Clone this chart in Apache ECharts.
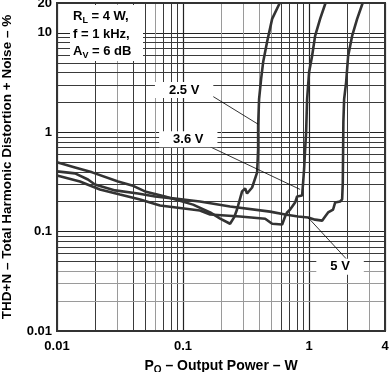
<!DOCTYPE html>
<html><head><meta charset="utf-8">
<script src="https://cdn.jsdelivr.net/npm/echarts@6/dist/echarts.min.js"></script>
<style>html,body{margin:0;padding:0;background:#fff}#c{width:391px;height:372px}</style>
</head><body><div id="c"></div>
<script>
// ---- data ----
const xMin = 0.01, xMax = 4;
const yMin = 0.01, yMax = 20;
const xMinorGrid = [0.02,0.03,0.04,0.05,0.06,0.07,0.08,0.09,0.2,0.3,0.4,0.5,0.6,0.7,0.8,0.9,2,3];
const yMinorGrid = [0.02,0.03,0.04,0.05,0.06,0.07,0.08,0.09,0.2,0.3,0.4,0.5,0.6,0.7,0.8,0.9,2,3,4,5,6,7,8,9];
const xLightGrid = [0.03,0.06,0.2,0.3,0.4,0.5,3];
const yLightGrid = [0.02,0.03,0.04];

const power25 = [0.0100,0.0139,0.0190,0.0305,0.0394,0.0499,0.0720,0.120,0.164,0.197,0.236,0.254,0.268,0.294,0.311,0.322,0.353,0.387,0.394,0.394,0.401,0.416,0.432,0.464,0.509,0.585];
const thd25   = [0.498,0.443,0.395,0.320,0.292,0.254,0.226,0.187,0.156,0.135,0.120,0.139,0.167,0.254,0.272,0.242,0.278,0.395,0.673,1.15,2.15,3.43,5.09,8.11,13.85,20];

const power36 = [0.0100,0.0152,0.0219,0.0316,0.0456,0.0657,0.136,0.164,0.283,0.448,0.509,0.611,0.622,0.645,0.669,0.707,0.774,0.803,0.880,0.896,0.913,0.930,0.947,0.964,1.000,1.056,1.116,1.223,1.35];
const thd36   = [0.368,0.320,0.266,0.236,0.211,0.183,0.163,0.149,0.142,0.135,0.120,0.118,0.118,0.142,0.156,0.167,0.196,0.226,0.231,0.31,0.43,0.673,1.0,2.15,4.04,5.86,9.33,13.85,20];

const power5 = [0.0100,0.0139,0.0176,0.0200,0.0289,0.0439,0.0600,0.0864,0.136,0.236,0.490,0.645,0.818,0.982,1.116,1.268,1.340,1.415,1.550,1.608,1.762,1.828,1.850,1.860,1.870,1.896,1.967,2.040,2.194,2.405,2.66];
const thd5   = [0.404,0.386,0.335,0.298,0.260,0.242,0.226,0.215,0.201,0.179,0.159,0.149,0.142,0.139,0.132,0.129,0.142,0.156,0.167,0.196,0.201,0.211,0.31,0.6,1.26,2.154,3.2,5.86,9.33,13.85,20];

const curveNames = ['2.5 V','3.6 V','5 V'];
// label anchor [P, THD] and leader line [from, to]
const labelPos = [[0.102,2.66],[0.110,0.85],[1.76,0.0443]];
const leaderFrom = [[0.152,2.535],[0.161,0.722],[1.967,0.0534]];
const leaderTo = [[0.394,1.205],[0.848,0.266],[0.982,0.1385]];

// ---- chart ----
const FONT = '"Liberation Sans", Arial, sans-serif';
const zip = (a,b) => a.map((v,i)=>[v,b[i]]);
const fmt = v => String(Number(Number(v).toPrecision(4)));

const gridLines = xMinorGrid.map(v=>({xAxis:v, lineStyle:{color: xLightGrid.includes(v)?'#9a9a9a':'#3a3a3a', width:1, type:'solid'}}))
  .concat(yMinorGrid.map(v=>({yAxis:v, lineStyle:{color: yLightGrid.includes(v)?'#9a9a9a':'#3a3a3a', width:1, type:'solid'}})));

const curveStyle = {color:'#333', width:2.6};
const chart = echarts.init(document.getElementById('c'), null, {renderer:'canvas'});
chart.setOption({
  animation:false,
  backgroundColor:'#fff',
  textStyle:{fontFamily:FONT},
  grid:{left:57, right:6, top:3, bottom:41, containLabel:false, outerBoundsMode:'none',
    show:true, borderColor:'#333', borderWidth:2, backgroundColor:'transparent', z:10},
  xAxis:{type:'log', logBase:10, min:xMin, max:xMax,
    axisLine:{show:false}, axisTick:{show:false},
    splitLine:{show:true, lineStyle:{color:'#222', width:1.2}},
    axisLabel:{formatter:fmt, color:'#000', fontWeight:'bold', fontSize:13, fontFamily:FONT, margin:9},
    name:'{n|P}{s|O}{n| – Output Power – W}', nameLocation:'middle', nameGap:26,
    nameTextStyle:{rich:{n:{fontSize:14,fontWeight:'bold',color:'#000',fontFamily:FONT}, s:{fontSize:10,fontWeight:'bold',color:'#000',fontFamily:FONT,verticalAlign:'bottom',padding:[8,0,0,0]}}}
  },
  yAxis:{type:'log', logBase:10, min:yMin, max:yMax,
    axisLine:{show:false}, axisTick:{show:false},
    splitLine:{show:true, lineStyle:{color:'#222', width:1.2}},
    axisLabel:{formatter:fmt, color:'#000', fontWeight:'bold', fontSize:13, fontFamily:FONT, margin:5},
    name:'THD+N – Total Harmonic Distortion + Noise – %', nameLocation:'middle', nameGap:43,
    nameTextStyle:{fontSize:13.5, fontWeight:'bold', color:'#000', fontFamily:FONT}
  },
  series:[
    {type:'line', data:[], silent:true, z:1,
      markLine:{silent:true, z:1, animation:false, symbol:['none','none'], label:{show:false}, data:gridLines}},
    {name:curveNames[0], type:'line', data:zip(power25,thd25), showSymbol:false, symbol:'none', lineStyle:curveStyle, z:3, silent:true},
    {name:curveNames[1], type:'line', data:zip(power36,thd36), showSymbol:false, symbol:'none', lineStyle:curveStyle, z:3, silent:true},
    {name:curveNames[2], type:'line', data:zip(power5,thd5), showSymbol:false, symbol:'none', lineStyle:curveStyle, z:3, silent:true},
    {type:'line', data:[], silent:true, z:5,
      markLine:{silent:true, z:5, animation:false, symbol:['none','none'], label:{show:false},
        lineStyle:{color:'#000', width:0.8, type:'solid'},
        data: leaderFrom.map((f,i)=>[{coord:f},{coord:leaderTo[i]}])},
      markPoint:{silent:true, z:6, animation:false, symbol:'rect', symbolSize:0,
        label:{show:true, position:'inside', formatter:'{b}', color:'#000', fontSize:13, fontWeight:'bold', fontFamily:FONT,
          backgroundColor:'#fff', padding:[2,14,1,14]},
        data: labelPos.map((p,i)=>({name:curveNames[i], coord:p}))}
    }
  ],
  graphic:[
    {type:'rect', left:70, top:5, shape:{width:73, height:56}, style:{fill:'#fff'}, z:20, silent:true},
    {type:'text', left:73, top:10, z:21, silent:true, style:{
      text:'{n|R}{s|L}{n| = 4 W,}\n{n|f = 1 kHz,}\n{n|A}{s|V}{n| = 6 dB}',
      rich:{n:{fontSize:13, fontWeight:'bold', fill:'#000', fontFamily:FONT, lineHeight:17.5},
            s:{fontSize:9, fontWeight:'bold', fill:'#000', fontFamily:FONT, lineHeight:17.5, verticalAlign:'bottom', padding:[6,0,0,0]}}
    }}
  ]
});
</script></body></html>
